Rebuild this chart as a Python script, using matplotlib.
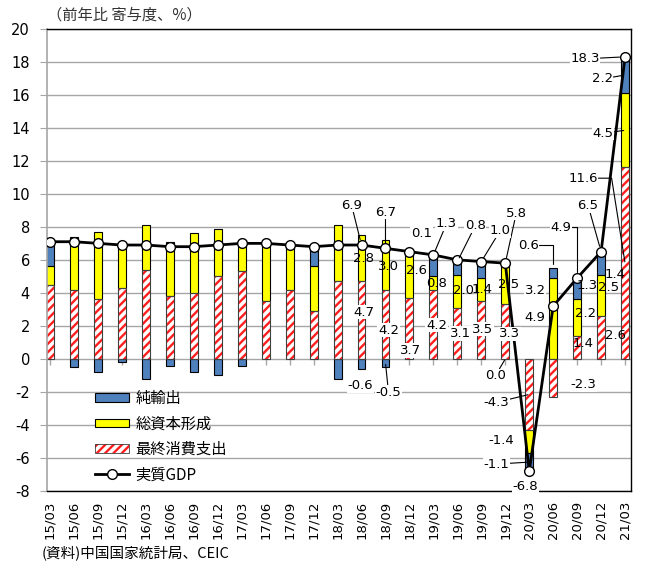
import matplotlib
matplotlib.use('Agg')
import matplotlib.pyplot as plt
from matplotlib.patches import Patch
from matplotlib.lines import Line2D
import numpy as np

plt.rcParams['font.family'] = ['DejaVu Sans', 'Noto Sans CJK JP']
plt.rcParams['axes.unicode_minus'] = False
plt.rcParams['hatch.linewidth'] = 1.7

# ---------------- data ----------------
quarters = ['15/03', '15/06', '15/09', '15/12', '16/03', '16/06', '16/09', '16/12',
            '17/03', '17/06', '17/09', '17/12', '18/03', '18/06', '18/09', '18/12',
            '19/03', '19/06', '19/09', '19/12', '20/03', '20/06', '20/09', '20/12', '21/03']
consumption = [4.5, 4.2, 3.6, 4.3, 5.4, 3.8, 4.0, 5.0, 5.3, 3.5, 4.2, 2.9, 4.7,
               4.7, 4.2, 3.7, 4.2, 3.1, 3.5, 3.3, -4.3, -2.3, 1.4, 2.6, 11.6]
investment = [1.1, 3.2, 4.1, 2.8, 2.7, 3.3, 3.6, 2.9, 1.9, 3.4, 2.7, 2.7, 3.4,
              2.8, 3.0, 2.6, 0.8, 2.0, 1.4, 2.5, -1.4, 4.9, 2.2, 2.5, 4.5]
net_exports = [1.5, -0.5, -0.8, -0.2, -1.2, -0.4, -0.8, -1.0, -0.4, 0.0, 0.0, 1.2, -1.2,
               -0.6, -0.5, 0.1, 1.3, 0.8, 1.0, 0.0, -1.1, 0.6, 1.3, 1.4, 2.2]
gdp = [7.1, 7.1, 7.0, 6.9, 6.9, 6.8, 6.8, 6.9, 7.0, 7.0, 6.9, 6.8, 6.9,
       6.9, 6.7, 6.5, 6.3, 6.0, 5.9, 5.8, -6.8, 3.2, 4.9, 6.5, 18.3]
series_names = ['純輸出', '総資本形成', '最終消費支出', '実質GDP']
y_title = '（前年比 寄与度、%）'
source_note = '(資料)中国国家統計局、CEIC'

# ---------------- style ----------------
C_BLUE = '#4F81BD'
C_YEL = '#FFFF00'
C_RED = '#FF1E1E'
GRID = '#A6A6A6'

fig = plt.figure(figsize=(6.45, 5.63), dpi=100)
ax = fig.add_axes([0.0724, 0.1279, 0.906, 0.821])

x = np.arange(len(quarters))
comps = [np.array(consumption), np.array(investment), np.array(net_exports)]
pos_base = np.zeros(len(x))
neg_base = np.zeros(len(x))
bottoms = []
for v in comps:
    b = np.where(v >= 0, pos_base, neg_base)
    bottoms.append(b)
    pos_base = pos_base + np.where(v >= 0, v, 0)
    neg_base = neg_base + np.where(v < 0, v, 0)

W = 0.33
ax.bar(x, comps[0], W, bottom=bottoms[0], color='white', edgecolor=C_RED,
       hatch='////', linewidth=0, zorder=2)
ax.bar(x, comps[0], W, bottom=bottoms[0], fill=False, edgecolor='#404040',
       linewidth=0.8, zorder=2.1)
ax.bar(x, comps[1], W, bottom=bottoms[1], color=C_YEL, edgecolor='black',
       linewidth=0.8, zorder=2)
ax.bar(x, comps[2], W, bottom=bottoms[2], color=C_BLUE, edgecolor='black',
       linewidth=0.8, zorder=2)
ax.plot(x, np.zeros(len(x)), linestyle='none', marker=3, ms=4, mew=1,
        color=GRID, zorder=1.5)
ax.plot(x, gdp, color='black', lw=2, marker='o', ms=7, mfc='white',
        mec='black', mew=1, zorder=4)

# ---------------- data labels ----------------
# (series, index, anchor, dx_px, dy_px, leader, white_bg)
labels = [
    ('gdp', 13, 'v', -10, 40, 'L', True),
    ('gdp', 14, 'v', 0, 36, 'L', True),
    ('gdp', 19, 'v', 11, 50, 'L', True),
    ('gdp', 20, 'v', -4, -15, None, True),
    ('gdp', 21, 'v', -18, 16, None, True),
    ('gdp', 22, 'v', -16, 51, 'E', True),
    ('gdp', 23, 'v', -13, 46, 'L', True),
    ('gdp', 24, 'v', -40, -2, 'L', True),
    (0, 13, 'c', 2, 8, None, True),
    (0, 14, 'c', 3, -6, None, True),
    (0, 15, 'c', 1, -22, None, True),
    (0, 16, 'c', 3, -1, None, True),
    (0, 17, 'c', 3, 0, None, True),
    (0, 18, 'c', 1, 1, None, True),
    (0, 19, 'c', 4, -2, None, True),
    (0, 20, 'c', -33, -8, 'L', True),
    (0, 21, 'c', 30, -7, None, True),
    (0, 22, 'c', 6, 4, None, False),
    (0, 23, 'c', 14, 2, None, False),
    (0, 24, 'c', -42, 85, 'A', True),
    (1, 13, 'c', 2, 0, None, False),
    (1, 14, 'c', 3, -2, None, False),
    (1, 15, 'c', 7, 6, None, False),
    (1, 16, 'c', 3, -1, None, False),
    (1, 17, 'c', 6, 1, None, False),
    (1, 18, 'c', 1, 0, None, False),
    (1, 19, 'c', 3, -1, None, False),
    (1, 20, 'c', -28, 1, None, True),
    (1, 21, 'c', -18, 1, None, True),
    (1, 22, 'c', 8, 4, None, False),
    (1, 23, 'c', 7, 8, None, False),
    (1, 24, 'c', -22, -3, 'L', True),
    (2, 13, 'c', -1, -22, None, True),
    (2, 14, 'c', 3, -29, 'L', True),
    (2, 15, 'c', 12, 21, None, True),
    (2, 16, 't', 13, 31, 'L', True),
    (2, 17, 't', 18, 36, 'L', True),
    (2, 18, 't', 19, 31, 'L', True),
    (2, 19, 'z', -10, -17, 'L', True),
    (2, 20, 'c', -33, -2, 'L', True),
    (2, 21, 't', -25, 23, 'E', True),
    (2, 22, 'c', 10, 3, None, False),
    (2, 23, 'c', 14, -11, None, False),
    (2, 24, 'c', -23, -4, 'L', True),
]

for s, i, anc, dx, dy, leader, bg in labels:
    if s == 'gdp':
        val = gdp[i]
        ya = gdp[i]
        shrink = 4
    else:
        val = comps[s][i]
        if anc == 'c':
            ya = bottoms[s][i] + val / 2
        elif anc == 't':
            ya = bottoms[s][i] + val
        else:
            ya = 0.0
        shrink = 3 if anc == 't' else 1
    kw = {}
    if leader:
        cs = 'arc3'
        if leader == 'E':
            cs = 'angle,angleA=0,angleB=90,rad=0'
        elif leader == 'A':
            cs = 'angle,angleA=0,angleB=99,rad=0'
        kw['arrowprops'] = dict(arrowstyle='-', color='black', lw=0.8,
                                shrinkA=0, shrinkB=shrink, connectionstyle=cs)
    ax.annotate(f'{val:.1f}', xy=(i, ya), xytext=(dx, dy), textcoords='offset pixels',
                ha='center', va='center', fontsize=9.5, color='black',
                bbox=dict(facecolor='white' if bg else 'none', edgecolor='none', pad=0.5),
                zorder=5, **kw)

# ---------------- axes ----------------
ax.set_xlim(-0.14, 24.25)
ax.set_ylim(-8, 20)
ax.set_yticks(np.arange(-8, 21, 2))
ax.set_xticks(x)
ax.set_xticklabels(quarters, rotation=90)
ax.tick_params(axis='x', length=0, pad=7, labelsize=9.5)
ax.tick_params(axis='y', length=5, color=GRID, pad=7, labelsize=10.5)
ax.yaxis.grid(True, color=GRID, lw=1)
ax.set_axisbelow(True)
for sp in ['top', 'right', 'bottom']:
    ax.spines[sp].set_color('black')
    ax.spines[sp].set_linewidth(1)
ax.spines['left'].set_color(GRID)
ax.spines['left'].set_linewidth(1.2)

# ---------------- legend ----------------
handles = [
    Patch(facecolor=C_BLUE, edgecolor='black', lw=0.8),
    Patch(facecolor=C_YEL, edgecolor='black', lw=0.8),
    (Patch(facecolor='white', edgecolor=C_RED, hatch='////', lw=0),
     Patch(fill=False, edgecolor='#404040', lw=0.6)),
    Line2D([], [], color='black', lw=2, marker='o', ms=7, mfc='white', mec='black', mew=1),
]
ax.legend(handles, series_names, loc='upper left', bbox_to_anchor=(0.148, 0.307),
          bbox_transform=fig.transFigure, frameon=False,
          prop={'family': ['Noto Sans CJK JP'], 'size': 11},
          handlelength=2.2, handleheight=0.5, handletextpad=0.4,
          labelspacing=0.55, borderpad=0, borderaxespad=0)

fig.text(47 / 645, 1 - 15 / 563, y_title, fontsize=11, color='#333333',
         family=['Noto Sans CJK JP'], va='center', ha='left')
fig.text(42 / 645, 1 - 553 / 563, source_note, fontsize=10.5, color='black',
         family=['Noto Sans CJK JP'], va='center', ha='left')

fig.savefig('out.png', dpi=100)
